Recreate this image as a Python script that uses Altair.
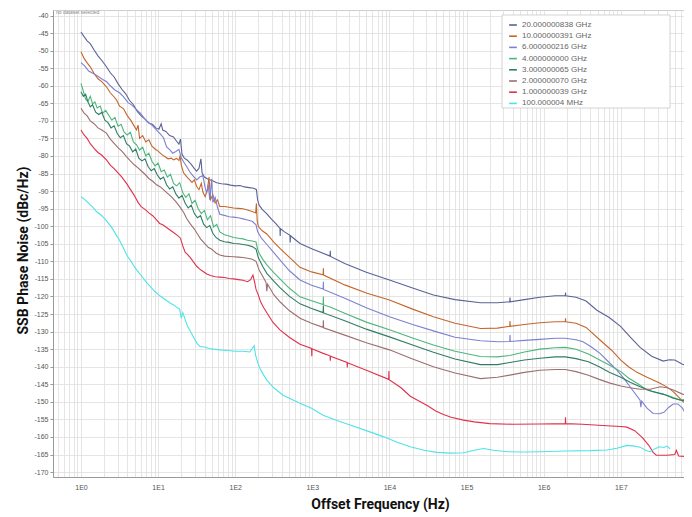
import altair as alt
import pandas as pd

SERIES = ["20.000000838 GHz", "10.000000391 GHz", "6.000000216 GHz", "4.000000000 GHz",
          "3.000000065 GHz", "2.000000070 GHz", "1.000000039 GHz", "100.000004 MHz"]
COLORS = ["#5b6396", "#c4662c", "#7d80cf", "#4cb67c", "#2f7d62", "#9c6f70", "#e0304c", "#4fe3e6"]

# (log10 of offset frequency in Hz, SSB phase noise in dBc/Hz)
S20G = [(0.00,-44.7),(0.04,-46.0),(0.08,-47.2),(0.12,-48.0),(0.17,-49.8),(0.22,-51.5),(0.27,-52.8),
        (0.33,-54.6),(0.38,-56.3),(0.43,-57.5),(0.48,-59.4),(0.53,-61.0),(0.58,-62.3),(0.63,-64.2),
        (0.68,-65.4),(0.73,-67.3),(0.78,-68.6),(0.83,-69.5),(0.88,-70.6),(0.93,-71.0),(0.97,-72.0),
        (1.01,-72.4),(1.04,-70.8),(1.06,-72.6),(1.10,-73.0),(1.15,-74.2),(1.20,-74.6),(1.24,-75.8),
        (1.27,-76.6),(1.29,-75.2),(1.31,-79.5),(1.34,-80.6),(1.38,-81.2),(1.43,-82.4),(1.47,-83.6),
        (1.50,-84.3),(1.53,-83.5),(1.555,-80.8),(1.57,-84.8),(1.60,-86.0),(1.65,-86.6),(1.70,-87.0),
        (1.76,-87.6),(1.82,-87.9),(1.88,-88.0),(1.94,-88.3),(2.00,-88.5),(2.06,-88.4),(2.12,-88.8),
        (2.18,-89.0),(2.24,-89.2),(2.275,-89.6),(2.29,-92.5),(2.31,-94.0),(2.35,-95.2),(2.41,-96.5),
        (2.47,-98.0),(2.53,-99.3),(2.58,-100.6),(2.583,-102.8),(2.586,-100.7),(2.64,-101.6),
        (2.71,-102.6),(2.713,-104.6),(2.716,-102.7),(2.84,-104.9),(3.00,-106.5),(3.23,-108.5),
        (3.233,-107.0),(3.236,-108.6),(3.42,-110.6),(3.70,-113.1),(4.00,-115.3),(4.30,-117.6),
        (4.57,-119.6),(4.85,-120.9),(5.18,-121.8),(5.40,-121.8),(5.56,-121.5),(5.563,-120.3),
        (5.566,-121.5),(5.75,-120.9),(5.95,-120.2),(6.15,-119.8),(6.28,-119.8),(6.283,-118.9),
        (6.286,-119.8),(6.42,-120.2),(6.55,-121.3),(6.69,-123.9),(6.85,-126.0),(7.00,-128.6),
        (7.12,-131.5),(7.25,-134.5),(7.40,-137.0),(7.55,-138.4),(7.63,-138.0),(7.70,-138.1),
        (7.80,-139.3),(7.92,-140.0)]

S10G = [(0.00,-50.3),(0.04,-52.2),(0.08,-53.5),(0.12,-54.6),(0.17,-56.5),(0.22,-58.0),(0.27,-58.8),
        (0.33,-60.3),(0.38,-62.0),(0.43,-63.2),(0.46,-64.0),(0.50,-65.8),(0.55,-66.5),(0.60,-68.5),
        (0.65,-70.0),(0.69,-71.5),(0.72,-72.6),(0.74,-71.2),(0.76,-75.0),(0.80,-74.2),(0.84,-76.0),
        (0.88,-75.4),(0.92,-77.2),(0.96,-78.0),(1.00,-78.6),(1.05,-79.6),(1.09,-80.2),(1.13,-80.8),
        (1.17,-80.6),(1.20,-81.1),(1.24,-80.7),(1.27,-81.3),(1.285,-79.8),(1.30,-82.5),(1.33,-84.8),
        (1.37,-85.9),(1.40,-86.6),(1.44,-87.5),(1.47,-86.8),(1.50,-88.7),(1.53,-89.6),(1.56,-87.8),
        (1.58,-90.2),(1.61,-91.6),(1.64,-89.5),(1.66,-86.0),(1.68,-92.4),(1.71,-91.0),(1.74,-93.4),
        (1.77,-92.5),(1.80,-94.4),(1.86,-94.4),(1.92,-94.6),(1.98,-94.8),(2.04,-94.9),(2.10,-95.0),
        (2.16,-95.4),(2.22,-95.8),(2.265,-96.2),(2.275,-93.5),(2.285,-98.5),(2.30,-100.1),
        (2.35,-101.3),(2.41,-102.2),(2.50,-104.5),(2.58,-106.3),(2.70,-108.8),(2.84,-111.7),
        (2.99,-113.0),(3.14,-113.8),(3.143,-112.0),(3.146,-113.9),(3.42,-116.7),(3.70,-119.0),
        (4.00,-121.0),(4.30,-123.6),(4.57,-125.8),(4.85,-127.6),(5.18,-129.1),(5.40,-129.0),
        (5.56,-128.5),(5.563,-127.0),(5.566,-128.5),(5.75,-128.0),(5.95,-127.5),(6.15,-127.2),
        (6.28,-127.2),(6.283,-126.2),(6.286,-127.2),(6.42,-127.6),(6.55,-128.8),(6.73,-132.4),
        (6.88,-135.3),(7.00,-138.1),(7.10,-140.0),(7.21,-141.6),(7.34,-143.0),(7.51,-144.7),
        (7.60,-145.8),(7.68,-147.1),(7.81,-150.0),(7.92,-151.8)]

S6G = [(0.00,-53.4),(0.05,-54.4),(0.10,-55.8),(0.16,-56.5),(0.22,-57.3),(0.28,-58.2),(0.33,-58.8),
       (0.38,-60.0),(0.44,-61.2),(0.50,-62.0),(0.55,-63.1),(0.61,-64.8),(0.66,-65.5),(0.72,-66.8),
       (0.77,-67.8),(0.82,-69.2),(0.87,-70.4),(0.92,-71.2),(0.98,-72.6),(1.03,-73.8),(1.07,-74.8),
       (1.11,-77.4),(1.15,-78.2),(1.19,-79.2),(1.23,-78.7),(1.27,-78.1),(1.30,-80.5),(1.34,-82.0),
       (1.37,-83.0),(1.41,-84.5),(1.45,-85.6),(1.50,-86.8),(1.54,-86.0),(1.58,-85.6),(1.61,-89.0),
       (1.63,-90.6),(1.65,-88.2),(1.67,-92.5),(1.695,-86.5),(1.71,-93.2),(1.74,-91.8),(1.77,-94.6),
       (1.80,-96.6),(1.86,-96.9),(1.92,-97.3),(1.98,-97.4),(2.04,-97.6),(2.10,-97.9),(2.16,-98.2),
       (2.22,-98.6),(2.27,-99.6),(2.29,-101.5),(2.34,-103.4),(2.41,-105.2),(2.50,-107.5),
       (2.58,-109.6),(2.70,-112.6),(2.84,-115.3),(2.99,-116.8),(3.14,-117.9),(3.143,-115.8),
       (3.146,-118.0),(3.42,-120.5),(3.70,-123.2),(4.00,-125.8),(4.30,-128.0),(4.57,-129.8),
       (4.85,-131.6),(5.18,-132.6),(5.40,-132.9),(5.56,-132.8),(5.563,-131.0),(5.566,-132.8),
       (5.75,-132.5),(5.95,-132.2),(6.15,-131.9),(6.28,-131.9),(6.42,-132.3),(6.51,-132.9),
       (6.62,-134.4),(6.73,-136.2),(6.85,-138.8),(6.95,-141.0),(7.04,-143.3),(7.12,-145.7),
       (7.25,-149.5),(7.26,-151.5),(7.27,-149.8),(7.34,-151.8),(7.42,-153.3),(7.50,-153.4),
       (7.56,-153.0),(7.62,-151.6),(7.68,-150.6),(7.74,-150.6),(7.80,-151.8),(7.86,-154.2),
       (7.92,-157.1)]

S4G = [(0.00,-59.3),(0.03,-61.5),(0.06,-63.8),(0.09,-64.5),(0.12,-63.0),(0.15,-65.2),(0.18,-64.6),
       (0.21,-66.3),(0.25,-65.8),(0.28,-67.8),(0.32,-67.0),(0.36,-68.4),(0.40,-69.8),(0.44,-69.0),
       (0.48,-71.5),(0.52,-71.0),(0.56,-73.2),(0.60,-74.0),(0.64,-73.2),(0.68,-76.0),(0.72,-76.8),
       (0.76,-78.3),(0.80,-77.5),(0.84,-80.0),(0.88,-79.2),(0.92,-81.5),(0.96,-82.8),(1.00,-82.0),
       (1.04,-84.5),(1.08,-84.0),(1.12,-86.0),(1.16,-85.2),(1.20,-87.8),(1.24,-88.5),(1.28,-87.6),
       (1.32,-90.5),(1.36,-91.8),(1.40,-90.8),(1.44,-93.5),(1.48,-92.6),(1.52,-95.0),(1.56,-96.4),
       (1.60,-95.5),(1.64,-98.2),(1.68,-97.0),(1.72,-100.2),(1.76,-99.5),(1.80,-101.6),(1.86,-102.4),
       (1.92,-102.8),(1.98,-103.2),(2.04,-103.4),(2.10,-103.6),(2.16,-104.0),(2.22,-104.2),
       (2.27,-104.5),(2.29,-106.5),(2.31,-107.7),(2.36,-109.5),(2.41,-111.0),(2.50,-113.2),
       (2.58,-115.0),(2.70,-117.6),(2.84,-120.1),(2.99,-121.2),(3.14,-122.3),(3.143,-120.0),
       (3.146,-122.4),(3.23,-123.0),(3.42,-124.8),(3.70,-127.3),(4.00,-129.5),(4.30,-131.8),
       (4.57,-133.8),(4.85,-135.6),(5.18,-137.1),(5.40,-137.2),(5.56,-136.8),(5.75,-135.8),
       (5.95,-135.0),(6.15,-134.6),(6.28,-134.5),(6.42,-135.0),(6.58,-136.4),(6.72,-138.0),
       (6.85,-139.5),(7.00,-141.4),(7.10,-143.2),(7.21,-144.7),(7.34,-146.6),(7.50,-147.6),
       (7.60,-148.1),(7.77,-149.5),(7.85,-149.2),(7.92,-149.0)]

S3G = [(0.00,-61.7),(0.03,-63.0),(0.06,-62.4),(0.09,-64.6),(0.12,-66.0),(0.15,-65.4),(0.19,-67.5),
       (0.23,-68.2),(0.27,-67.6),(0.31,-69.8),(0.35,-70.5),(0.39,-72.0),(0.43,-71.4),(0.47,-73.6),
       (0.51,-74.8),(0.55,-74.2),(0.59,-76.5),(0.63,-77.2),(0.67,-78.8),(0.71,-78.0),(0.75,-80.6),
       (0.79,-81.4),(0.83,-80.8),(0.87,-83.0),(0.91,-84.2),(0.95,-83.6),(0.99,-85.4),(1.03,-86.6),
       (1.07,-86.0),(1.11,-88.2),(1.15,-89.4),(1.19,-88.8),(1.23,-90.8),(1.27,-92.0),(1.31,-91.2),
       (1.35,-93.4),(1.39,-94.8),(1.43,-94.0),(1.47,-96.4),(1.51,-97.6),(1.55,-97.0),(1.59,-99.4),
       (1.63,-100.4),(1.67,-99.8),(1.71,-102.0),(1.75,-103.2),(1.80,-104.0),(1.86,-104.4),
       (1.92,-104.6),(1.98,-104.9),(2.04,-105.0),(2.10,-105.2),(2.16,-105.4),(2.22,-105.8),
       (2.27,-106.5),(2.30,-109.0),(2.32,-109.8),(2.36,-111.6),(2.41,-113.4),(2.50,-115.6),
       (2.58,-117.5),(2.70,-119.9),(2.84,-122.1),(2.99,-123.4),(3.14,-124.6),(3.143,-122.6),
       (3.146,-124.7),(3.42,-126.9),(3.70,-129.3),(4.00,-131.5),(4.30,-133.8),(4.57,-135.9),
       (4.85,-137.8),(5.18,-139.4),(5.40,-139.4),(5.56,-138.8),(5.75,-138.1),(5.95,-137.6),
       (6.15,-137.2),(6.28,-137.2),(6.42,-137.7),(6.58,-138.6),(6.72,-140.0),(6.85,-141.6),
       (7.00,-143.0),(7.12,-144.4),(7.25,-145.7),(7.40,-147.0),(7.55,-147.8),(7.68,-149.0),
       (7.80,-149.6),(7.92,-150.0)]

S2G = [(0.00,-66.4),(0.04,-67.8),(0.08,-68.6),(0.12,-70.0),(0.17,-70.8),(0.22,-72.0),(0.27,-72.6),
       (0.33,-73.5),(0.38,-75.2),(0.43,-76.4),(0.48,-77.6),(0.53,-78.6),(0.59,-80.2),(0.64,-81.4),
       (0.69,-82.5),(0.74,-83.4),(0.78,-84.2),(0.83,-85.2),(0.88,-86.4),(0.93,-87.2),(0.98,-88.2),
       (1.03,-88.8),(1.08,-89.8),(1.13,-90.8),(1.18,-91.8),(1.23,-93.0),(1.28,-94.4),(1.33,-96.0),
       (1.37,-97.8),(1.42,-99.4),(1.47,-100.8),(1.51,-102.2),(1.55,-103.6),(1.60,-104.8),
       (1.65,-106.0),(1.70,-106.6),(1.75,-107.6),(1.80,-108.2),(1.86,-108.5),(1.92,-108.6),
       (1.98,-108.7),(2.04,-108.8),(2.10,-108.9),(2.16,-109.1),(2.22,-109.4),(2.27,-110.0),
       (2.31,-112.5),(2.36,-114.4),(2.40,-116.0),(2.41,-118.5),(2.42,-116.5),(2.50,-119.5),
       (2.58,-121.5),(2.70,-124.0),(2.84,-126.2),(2.99,-127.6),(3.14,-128.8),(3.143,-126.8),
       (3.146,-128.9),(3.42,-131.0),(3.70,-133.2),(4.00,-135.2),(4.30,-137.8),(4.57,-140.0),
       (4.85,-141.8),(5.18,-143.4),(5.40,-143.0),(5.56,-142.4),(5.75,-141.6),(5.95,-141.0),
       (6.15,-140.8),(6.28,-140.8),(6.42,-141.4),(6.58,-142.4),(6.72,-143.6),(6.85,-144.6),
       (7.00,-145.5),(7.12,-146.0),(7.25,-146.4),(7.38,-146.4),(7.51,-145.7),(7.60,-146.0),
       (7.68,-146.6),(7.80,-147.8),(7.92,-148.5)]

S1G = [(0.00,-72.6),(0.04,-74.0),(0.08,-75.0),(0.12,-76.5),(0.17,-77.8),(0.22,-79.0),(0.27,-79.8),
       (0.33,-81.1),(0.38,-82.6),(0.43,-83.6),(0.48,-84.8),(0.53,-86.0),(0.59,-87.8),(0.64,-89.5),
       (0.69,-91.2),(0.74,-93.2),(0.78,-94.4),(0.83,-95.2),(0.88,-96.2),(0.93,-97.0),(0.98,-98.2),
       (1.02,-99.2),(1.06,-99.6),(1.10,-100.2),(1.15,-101.0),(1.20,-101.8),(1.25,-102.6),
       (1.29,-103.4),(1.32,-105.6),(1.35,-107.4),(1.38,-108.0),(1.42,-109.0),(1.46,-110.2),
       (1.50,-111.4),(1.54,-112.2),(1.58,-112.8),(1.63,-113.6),(1.68,-114.0),(1.74,-114.4),
       (1.80,-114.5),(1.86,-114.6),(1.92,-114.9),(1.98,-115.0),(2.04,-115.2),(2.10,-115.4),
       (2.16,-115.8),(2.20,-115.2),(2.23,-113.9),(2.25,-115.8),(2.27,-118.0),(2.30,-119.6),
       (2.33,-121.6),(2.37,-123.2),(2.42,-125.0),(2.49,-127.4),(2.58,-129.5),(2.70,-131.6),
       (2.84,-133.6),(2.99,-134.8),(2.993,-137.0),(2.996,-134.9),(3.14,-136.2),(3.23,-136.9),
       (3.233,-138.3),(3.236,-137.0),(3.45,-138.8),(3.453,-140.2),(3.456,-138.9),(3.70,-141.0),
       (3.99,-143.6),(3.993,-141.2),(3.996,-143.7),(4.15,-146.0),(4.27,-148.4),(4.40,-150.0),
       (4.50,-151.2),(4.60,-152.6),(4.70,-153.6),(4.80,-154.4),(4.96,-155.2),(5.10,-155.7),
       (5.30,-156.2),(5.60,-156.4),(5.95,-156.3),(6.28,-156.2),(6.283,-154.4),(6.286,-156.2),
       (6.50,-156.4),(6.82,-156.8),(7.00,-157.0),(7.08,-157.2),(7.18,-158.2),(7.28,-160.2),
       (7.36,-162.3),(7.42,-164.4),(7.46,-165.2),(7.60,-165.2),(7.70,-165.0),(7.72,-163.8),
       (7.75,-165.4),(7.85,-165.6),(7.92,-165.6)]

S100M = [(0.00,-91.6),(0.05,-92.4),(0.10,-93.5),(0.15,-94.5),(0.20,-95.8),(0.27,-97.0),(0.33,-98.4),
         (0.40,-100.4),(0.46,-102.6),(0.50,-104.0),(0.55,-106.2),(0.60,-108.5),(0.65,-110.0),
         (0.70,-111.8),(0.75,-113.2),(0.80,-114.6),(0.85,-116.0),(0.90,-117.2),(0.95,-118.4),
         (1.00,-119.4),(1.05,-120.2),(1.10,-121.0),(1.15,-121.8),(1.20,-122.4),(1.25,-123.2),
         (1.28,-123.6),(1.30,-126.2),(1.32,-124.6),(1.35,-126.5),(1.38,-128.4),(1.42,-130.0),
         (1.46,-131.6),(1.50,-133.2),(1.54,-134.2),(1.60,-134.4),(1.66,-134.8),(1.72,-135.0),
         (1.80,-135.2),(1.90,-135.4),(2.00,-135.6),(2.10,-135.6),(2.19,-135.8),(2.22,-134.8),
         (2.245,-134.0),(2.265,-136.8),(2.30,-139.4),(2.33,-140.9),(2.37,-142.4),(2.41,-143.8),
         (2.50,-146.0),(2.62,-148.1),(2.84,-150.4),(2.99,-151.8),(3.14,-153.8),(3.30,-155.2),
         (3.49,-156.6),(3.70,-158.2),(3.92,-159.9),(4.10,-161.5),(4.27,-162.8),(4.45,-163.8),
         (4.61,-164.4),(4.80,-164.6),(4.96,-164.5),(5.10,-163.8),(5.22,-163.3),(5.35,-163.8),
         (5.52,-164.2),(5.75,-164.3),(5.95,-164.2),(6.28,-164.0),(6.60,-163.9),(6.82,-163.7),
         (6.95,-163.2),(7.08,-162.4),(7.18,-162.6),(7.25,-162.9),(7.32,-163.8),(7.38,-164.2),
         (7.44,-163.4),(7.50,-162.8),(7.56,-163.0),(7.60,-162.6),(7.64,-163.4)]

Y_TICKS = list(range(-170, -39, 5))
X_DECADES = list(range(-1, 8))

rows = []
for name, pts in zip(SERIES, [S20G, S10G, S6G, S4G, S3G, S2G, S1G, S100M]):
    for i, (lf, db) in enumerate(pts):
        rows.append({"series": name, "freq": 10 ** lf, "dbc": db, "i": i})
df = pd.DataFrame(rows)

X_MIN, X_MAX = 0.4335, 6.6e7
x_vals = [k * 10 ** d for d in X_DECADES for k in range(1, 10)]
x_vals = [v for v in x_vals if X_MIN <= v <= X_MAX]

dec = "round(log(datum.value)/LN10)"
label_expr = f"abs(log(datum.value)/LN10 - {dec}) < 0.01 ? '1E' + {dec} : ''"

AX_FONT = "Liberation Sans"
TITLE_FONT = "Roboto"

lines = alt.Chart(df).mark_line(strokeWidth=1.1, clip=True).encode(
    x=alt.X("freq:Q",
            scale=alt.Scale(type="log", domain=[X_MIN, X_MAX], nice=False),
            axis=alt.Axis(values=x_vals, labelExpr=label_expr, title="Offset Frequency (Hz)",
                          grid=True, ticks=False, labelPadding=6, labelFontSize=7,
                          labelColor="#555", labelFont=AX_FONT, titleFont=TITLE_FONT,
                          titleFontSize=14, titleFontWeight="bold", titleColor="#111",
                          titleX=327, titleY=27, titleBaseline="middle", labelFlush=False,
                          labelOverlap=False)),
    y=alt.Y("dbc:Q",
            scale=alt.Scale(domain=[-171.4, -38.43], nice=False, zero=False),
            axis=alt.Axis(values=Y_TICKS, labelExpr="'' + datum.value",
                          title="SSB Phase Noise (dBc/Hz)", grid=True, ticks=True, tickSize=3,
                          tickColor="#999", labelPadding=2, labelFontSize=7, labelColor="#555",
                          labelFont=AX_FONT, titleFont=TITLE_FONT, titleFontSize=14,
                          titleFontWeight="bold", titleColor="#111", titleX=-30, titleY=240,
                          titleBaseline="middle", titleAlign="center", labelFlush=False,
                          labelOverlap=False)),
    color=alt.Color("series:N", sort=SERIES,
                    scale=alt.Scale(domain=SERIES, range=COLORS),
                    legend=alt.Legend(title=None, orient="none", legendX=455, legendY=10,
                                      symbolType="stroke", symbolStrokeWidth=1.6,
                                      symbolSize=60, labelFontSize=8, labelColor="#666",
                                      labelFont=AX_FONT, rowPadding=2.2, padding=0,
                                      labelOffset=4)),
    order="i:Q",
)

box = alt.Chart(pd.DataFrame({"k": [0]})).mark_rect(
    fill="white", stroke="#c8c8c8", strokeWidth=0.8
).encode(x=alt.value(449), x2=alt.value(617), y=alt.value(5), y2=alt.value(98))

note = alt.Chart(pd.DataFrame({"k": [0]})).mark_text(
    text="no dataset selected", fontSize=5, color="#888", align="left", baseline="bottom",
    font=AX_FONT
).encode(x=alt.value(3), y=alt.value(4.5))

chart = alt.layer(lines, box, note).properties(
    width=631, height=467,
    autosize=alt.AutoSizeParams(type="none"),
    padding={"left": 45, "top": 2, "right": 0, "bottom": 35},
    background="white",
).configure_view(stroke="#cfcfcf").configure_axis(
    gridColor="#dedede", gridWidth=0.8, domainColor="#9a9a9a", domainWidth=1
)

chart.save("out.html", embed_options={"renderer": "svg", "actions": False})
